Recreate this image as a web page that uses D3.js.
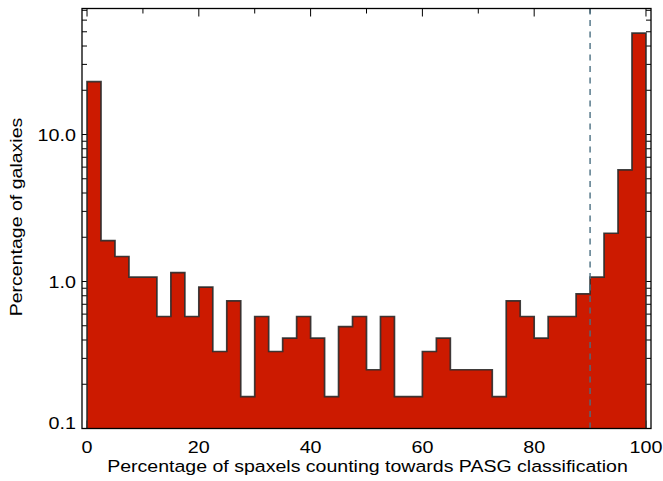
<!DOCTYPE html>
<html>
<head>
<meta charset="utf-8">
<script src="https://cdn.jsdelivr.net/npm/d3@7"></script>
<style>
  body { margin: 0; background: #fff; }
  text { font-family: "Liberation Sans", Arial, sans-serif; fill: #000; }
</style>
</head>
<body>
<svg width="663" height="481"></svg>
<script>
// histogram bins (left edge, width 2.5) and percentage of galaxies in each
var binWidth = 2.5;
var binStart = [0, 2.5, 5, 7.5, 10, 12.5, 15, 17.5, 20, 22.5,
                25, 27.5, 30, 32.5, 35, 37.5, 40, 42.5, 45, 47.5,
                50, 52.5, 55, 57.5, 60, 62.5, 65, 67.5, 70, 72.5,
                75, 77.5, 80, 82.5, 85, 87.5, 90, 92.5, 95, 97.5];
var percent = [22.9, 1.90, 1.48, 1.07, 1.07, 0.578, 1.15, 0.578, 0.916, 0.334,
               0.739, 0.165, 0.578, 0.334, 0.412, 0.578, 0.412, 0.165, 0.494, 0.578,
               0.251, 0.578, 0.165, 0.165, 0.334, 0.412, 0.251, 0.251, 0.251, 0.165,
               0.739, 0.578, 0.412, 0.578, 0.578, 0.825, 1.07, 2.13, 5.74, 48.9];
var xTicks = [0, 20, 40, 60, 80, 100];
var yTicks = [0.1, 1, 10];
var yTickLabels = ["0.1", "1.0", "10.0"];
var cutLine = 90;

var svg = d3.select("svg"),
    margin = {top: 8.5, right: 12, bottom: 52.5, left: 82},
    width = 663 - margin.left - margin.right,
    height = 481 - margin.top - margin.bottom,
    g = svg.append("g").attr("transform", "translate(" + margin.left + "," + margin.top + ")");

var x = d3.scaleLinear().domain([-0.9, 100.9]).range([0, width]);
var y = d3.scaleLog().domain([0.1, 72]).range([height, 0]);

// the original lettering is a bit wider than Arial, so stretch it sideways
function label(parent, px, py, size, sx, anchor, str, rot) {
    return parent.append("text")
        .attr("transform", "translate(" + px + "," + py + ")" + (rot ? " rotate(" + rot + ")" : "") + " scale(" + sx + ",1)")
        .attr("text-anchor", anchor)
        .attr("font-size", size)
        .text(str);
}

// minor ticks
var xMinor = d3.range(0, 101, 10);
var yMinor = [];
[0.1, 1, 10].forEach(function(d) {
    for (var k = 1; k <= 9; k++) if (d * k <= 72) yMinor.push(d * k);
});

var ticks = g.append("g").attr("stroke", "#000").attr("stroke-width", 1);
xMinor.forEach(function(d) {
    var len = (d % 20 === 0) ? 8 : 5;
    ticks.append("line").attr("x1", x(d)).attr("x2", x(d)).attr("y1", 0).attr("y2", len);
    ticks.append("line").attr("x1", x(d)).attr("x2", x(d)).attr("y1", height).attr("y2", height - len);
});
yMinor.forEach(function(d) {
    var len = (yTicks.indexOf(d) >= 0) ? 8 : 5;
    ticks.append("line").attr("x1", 0).attr("x2", len).attr("y1", y(d)).attr("y2", y(d));
    ticks.append("line").attr("x1", width).attr("x2", width - len).attr("y1", y(d)).attr("y2", y(d));
});

// stepped histogram
var steps = [];
binStart.forEach(function(b, i) {
    steps.push([b, percent[i]]);
    steps.push([b + binWidth, percent[i]]);
});

g.append("path")
    .datum(steps)
    .attr("fill", "#cc1a00")
    .attr("d", d3.area()
        .x(function(d) { return x(d[0]); })
        .y0(height)
        .y1(function(d) { return y(d[1]); }));

var outline = [[0, 0.1]].concat(steps).concat([[100, 0.1]]);
g.append("path")
    .datum(outline)
    .attr("fill", "none")
    .attr("stroke", "#2b2b2b")
    .attr("stroke-width", 1.7)
    .attr("stroke-opacity", 0.9)
    .attr("d", d3.line()
        .x(function(d) { return x(d[0]); })
        .y(function(d) { return y(d[1]); }));

// 90% cut
g.append("line")
    .attr("x1", x(cutLine)).attr("x2", x(cutLine))
    .attr("y1", 0).attr("y2", height)
    .attr("stroke", "#4a6f82")
    .attr("stroke-width", 1.4)
    .attr("stroke-dasharray", "6,5.5");

// frame
g.append("rect")
    .attr("width", width).attr("height", height)
    .attr("fill", "none").attr("stroke", "#000").attr("stroke-width", 1.3);

// tick labels
var xl = g.append("g");
xTicks.forEach(function(d) {
    label(xl, x(d), height + 24, 17, 1.16, "middle", d);
});

var yl = g.append("g");
yTicks.forEach(function(d, i) {
    label(yl, -6, Math.min(y(d) + 6, height), 17, 1.16, "end", yTickLabels[i]);
});

// axis titles
label(g, width / 2 + 1, height + 43.5, 17, 1.15, "middle",
      "Percentage of spaxels counting towards PASG classification");

label(g, -60, height / 2 - 1.5, 17, 1.15, "middle", "Percentage of galaxies", -90);
</script>
</body>
</html>
